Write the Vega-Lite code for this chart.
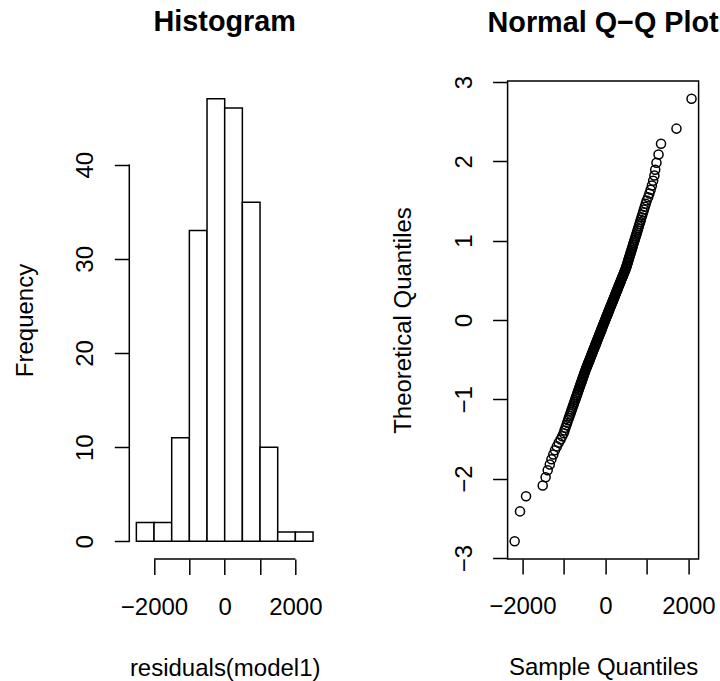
{
  "$schema": "https://vega.github.io/schema/vega-lite/v6.json",
  "background": "white",
  "padding": {"left": 13.3, "top": 8, "right": 0, "bottom": 0},
  "autosize": {"type": "pad"},
  "bounds": "flush",
  "spacing": 187.3,
  "datasets": {
    "hist": [
      {"lo": -2500, "hi": -2000, "n": 2},
      {"lo": -2000, "hi": -1500, "n": 2},
      {"lo": -1500, "hi": -1000, "n": 11},
      {"lo": -1000, "hi": -500, "n": 33},
      {"lo": -500, "hi": 0, "n": 47},
      {"lo": 0, "hi": 500, "n": 46},
      {"lo": 500, "hi": 1000, "n": 36},
      {"lo": 1000, "hi": 1500, "n": 10},
      {"lo": 1500, "hi": 2000, "n": 1},
      {"lo": 2000, "hi": 2500, "n": 1}
    ],
    "qq": [
      {"s": -2186, "t": -2.789}, {"s": -2057, "t": -2.412}, {"s": -1912, "t": -2.220}, {"s": -1510, "t": -2.085},
      {"s": -1440, "t": -1.981}, {"s": -1390, "t": -1.894}, {"s": -1340, "t": -1.820}, {"s": -1300, "t": -1.754},
      {"s": -1255, "t": -1.696}, {"s": -1215, "t": -1.642}, {"s": -1170, "t": -1.593}, {"s": -1125, "t": -1.548},
      {"s": -1080, "t": -1.505}, {"s": -1040, "t": -1.465}, {"s": -1005, "t": -1.428}, {"s": -985, "t": -1.392},
      {"s": -962, "t": -1.358}, {"s": -941, "t": -1.325}, {"s": -920, "t": -1.294}, {"s": -900, "t": -1.264},
      {"s": -881, "t": -1.235}, {"s": -862, "t": -1.207}, {"s": -844, "t": -1.180}, {"s": -827, "t": -1.154},
      {"s": -810, "t": -1.128}, {"s": -793, "t": -1.104}, {"s": -777, "t": -1.079}, {"s": -762, "t": -1.056},
      {"s": -746, "t": -1.033}, {"s": -732, "t": -1.011}, {"s": -717, "t": -0.989}, {"s": -703, "t": -0.967},
      {"s": -689, "t": -0.947}, {"s": -675, "t": -0.926}, {"s": -662, "t": -0.906}, {"s": -648, "t": -0.886},
      {"s": -636, "t": -0.867}, {"s": -623, "t": -0.847}, {"s": -610, "t": -0.829}, {"s": -598, "t": -0.810},
      {"s": -586, "t": -0.792}, {"s": -574, "t": -0.774}, {"s": -562, "t": -0.756}, {"s": -550, "t": -0.738},
      {"s": -539, "t": -0.721}, {"s": -527, "t": -0.704}, {"s": -516, "t": -0.687}, {"s": -505, "t": -0.670},
      {"s": -495, "t": -0.654}, {"s": -483, "t": -0.638}, {"s": -471, "t": -0.621}, {"s": -459, "t": -0.605},
      {"s": -447, "t": -0.590}, {"s": -435, "t": -0.574}, {"s": -423, "t": -0.558}, {"s": -412, "t": -0.543},
      {"s": -401, "t": -0.528}, {"s": -389, "t": -0.513}, {"s": -378, "t": -0.497}, {"s": -366, "t": -0.482},
      {"s": -355, "t": -0.468}, {"s": -345, "t": -0.453}, {"s": -334, "t": -0.438}, {"s": -323, "t": -0.424},
      {"s": -312, "t": -0.409}, {"s": -301, "t": -0.395}, {"s": -290, "t": -0.381}, {"s": -280, "t": -0.366},
      {"s": -269, "t": -0.352}, {"s": -258, "t": -0.338}, {"s": -248, "t": -0.324}, {"s": -237, "t": -0.310},
      {"s": -227, "t": -0.296}, {"s": -217, "t": -0.282}, {"s": -206, "t": -0.268}, {"s": -196, "t": -0.255},
      {"s": -186, "t": -0.241}, {"s": -176, "t": -0.228}, {"s": -165, "t": -0.214}, {"s": -155, "t": -0.200},
      {"s": -145, "t": -0.187}, {"s": -135, "t": -0.173}, {"s": -125, "t": -0.160}, {"s": -115, "t": -0.147},
      {"s": -105, "t": -0.133}, {"s": -95, "t": -0.120}, {"s": -85, "t": -0.106}, {"s": -75, "t": -0.093},
      {"s": -65, "t": -0.080}, {"s": -55, "t": -0.066}, {"s": -45, "t": -0.053}, {"s": -35, "t": -0.040},
      {"s": -25, "t": -0.027}, {"s": -15, "t": -0.013}, {"s": -5, "t": 0.0},
      {"s": 5, "t": 0.013}, {"s": 15, "t": 0.027}, {"s": 25, "t": 0.040}, {"s": 35, "t": 0.053},
      {"s": 46, "t": 0.066}, {"s": 56, "t": 0.080}, {"s": 66, "t": 0.093}, {"s": 76, "t": 0.106},
      {"s": 86, "t": 0.120}, {"s": 97, "t": 0.133}, {"s": 107, "t": 0.147}, {"s": 117, "t": 0.160},
      {"s": 127, "t": 0.173}, {"s": 138, "t": 0.187}, {"s": 148, "t": 0.200}, {"s": 158, "t": 0.214},
      {"s": 169, "t": 0.228}, {"s": 179, "t": 0.241}, {"s": 190, "t": 0.255}, {"s": 200, "t": 0.268},
      {"s": 211, "t": 0.282}, {"s": 221, "t": 0.296}, {"s": 232, "t": 0.310}, {"s": 243, "t": 0.324},
      {"s": 253, "t": 0.338}, {"s": 264, "t": 0.352}, {"s": 275, "t": 0.366}, {"s": 286, "t": 0.381},
      {"s": 297, "t": 0.395}, {"s": 308, "t": 0.409}, {"s": 319, "t": 0.424}, {"s": 330, "t": 0.438},
      {"s": 341, "t": 0.453}, {"s": 353, "t": 0.468}, {"s": 364, "t": 0.482}, {"s": 375, "t": 0.497},
      {"s": 387, "t": 0.513}, {"s": 399, "t": 0.528}, {"s": 410, "t": 0.543}, {"s": 422, "t": 0.558},
      {"s": 434, "t": 0.574}, {"s": 446, "t": 0.590}, {"s": 458, "t": 0.605}, {"s": 470, "t": 0.621},
      {"s": 483, "t": 0.638}, {"s": 495, "t": 0.654},
      {"s": 505, "t": 0.670}, {"s": 515, "t": 0.687}, {"s": 525, "t": 0.704}, {"s": 535, "t": 0.721},
      {"s": 545, "t": 0.738}, {"s": 555, "t": 0.756}, {"s": 566, "t": 0.774}, {"s": 576, "t": 0.792},
      {"s": 587, "t": 0.810}, {"s": 598, "t": 0.829}, {"s": 609, "t": 0.847}, {"s": 620, "t": 0.867},
      {"s": 632, "t": 0.886}, {"s": 643, "t": 0.906}, {"s": 655, "t": 0.926}, {"s": 667, "t": 0.947},
      {"s": 679, "t": 0.967}, {"s": 692, "t": 0.989}, {"s": 705, "t": 1.011}, {"s": 718, "t": 1.033},
      {"s": 731, "t": 1.056}, {"s": 745, "t": 1.079}, {"s": 759, "t": 1.104}, {"s": 774, "t": 1.128},
      {"s": 789, "t": 1.154}, {"s": 804, "t": 1.180}, {"s": 820, "t": 1.207}, {"s": 836, "t": 1.235},
      {"s": 853, "t": 1.264}, {"s": 871, "t": 1.294}, {"s": 889, "t": 1.325}, {"s": 908, "t": 1.358},
      {"s": 928, "t": 1.392}, {"s": 949, "t": 1.428}, {"s": 972, "t": 1.465}, {"s": 995, "t": 1.505},
      {"s": 1030, "t": 1.548}, {"s": 1060, "t": 1.593}, {"s": 1090, "t": 1.642}, {"s": 1120, "t": 1.696},
      {"s": 1150, "t": 1.754}, {"s": 1180, "t": 1.820}, {"s": 1200, "t": 1.894}, {"s": 1230, "t": 1.981},
      {"s": 1280, "t": 2.085}, {"s": 1340, "t": 2.220}, {"s": 1712, "t": 2.412}, {"s": 2075, "t": 2.789}
    ]
  },
  "config": {
    "view": {"stroke": null},
    "axis": {
      "grid": false,
      "domain": false,
      "tickColor": "black",
      "tickWidth": 1.5,
      "labelColor": "black",
      "titleColor": "black",
      "labelFont": "Liberation Sans",
      "titleFont": "Liberation Sans",
      "labelFontSize": 24,
      "titleFontSize": 24,
      "titleFontWeight": "normal",
      "labelOverlap": false,
      "labelFlush": false,
      "labelBound": false
    },
    "title": {
      "font": "Liberation Sans",
      "fontSize": 28.8,
      "fontWeight": "bold",
      "color": "black",
      "anchor": "middle",
      "frame": "group",
      "baseline": "alphabetic"
    }
  },
  "hconcat": [
    {
      "width": 190.8,
      "height": 478,
      "title": {"text": "Histogram", "offset": 44},
      "layer": [
        {
          "data": {"name": "hist"},
          "mark": {"type": "rect", "fill": "white", "stroke": "black", "strokeWidth": 1.5},
          "encoding": {
            "x": {
              "field": "lo", "type": "quantitative",
              "scale": {"domain": [-2700, 2700], "nice": false, "zero": false},
              "axis": {
                "values": [-2000, -1000, 0, 1000, 2000],
                "format": "d",
                "labelExpr": "abs(datum.value) == 1000 ? '' : datum.label",
                "tickSize": 15.5,
                "labelBaseline": "alphabetic",
                "labelPadding": 40.1,
                "title": "residuals(model1)",
                "titleBaseline": "alphabetic",
                "titleY": 116.1
              }
            },
            "x2": {"field": "hi"},
            "y": {
              "field": "n", "type": "quantitative",
              "scale": {"domain": [-1.88, 48.88], "nice": false, "zero": false},
              "axis": {
                "values": [0, 10, 20, 30, 40],
                "format": "d",
                "tickSize": 15,
                "labelAngle": 270,
                "labelAlign": "center",
                "labelBaseline": "alphabetic",
                "labelPadding": 21.9,
                "title": "Frequency",
                "titleAngle": 270,
                "titleAlign": "center",
                "titleBaseline": "alphabetic",
                "titleX": -96.3,
                "titleY": 239
              }
            },
            "y2": {"datum": 0}
          }
        },
        {
          "data": {"values": [{}]},
          "mark": {"type": "rule", "stroke": "black", "strokeWidth": 1.5},
          "encoding": {"x": {"datum": -2700}, "y": {"datum": 0}, "y2": {"datum": 40}}
        },
        {
          "data": {"values": [{}]},
          "mark": {"type": "rule", "stroke": "black", "strokeWidth": 1.5},
          "encoding": {"x": {"datum": -2000}, "x2": {"datum": 2000}, "y": {"datum": -1.88}}
        }
      ]
    },
    {
      "width": 191,
      "height": 478,
      "view": {"stroke": "black", "strokeWidth": 1.5},
      "title": {"text": "Normal Q−Q Plot", "offset": 37},
      "data": {"name": "qq"},
      "mark": {"type": "point", "shape": "circle", "filled": false, "stroke": "black", "strokeWidth": 1.5, "size": 82, "opacity": 1},
      "encoding": {
        "x": {
          "field": "s", "type": "quantitative",
          "scale": {"domain": [-2356, 2245], "nice": false, "zero": false},
          "axis": {
            "values": [-2000, -1000, 0, 1000, 2000],
            "format": "d",
            "labelExpr": "abs(datum.value) == 1000 ? '' : datum.label",
            "tickSize": 15,
            "labelBaseline": "alphabetic",
            "labelPadding": 40,
            "title": "Sample Quantiles",
            "titleBaseline": "alphabetic",
            "titleY": 115.5
          }
        },
        "y": {
          "field": "t", "type": "quantitative",
          "scale": {"domain": [-3.012, 3.012], "nice": false, "zero": false},
          "axis": {
            "values": [-3, -2, -1, 0, 1, 2, 3],
            "format": "d",
            "tickSize": 15,
            "labelAngle": 270,
            "labelAlign": "center",
            "labelBaseline": "alphabetic",
            "labelPadding": 21,
            "title": "Theoretical Quantiles",
            "titleAngle": 270,
            "titleAlign": "center",
            "titleBaseline": "alphabetic",
            "titleX": -97.4,
            "titleY": 239
          }
        }
      }
    }
  ]
}
